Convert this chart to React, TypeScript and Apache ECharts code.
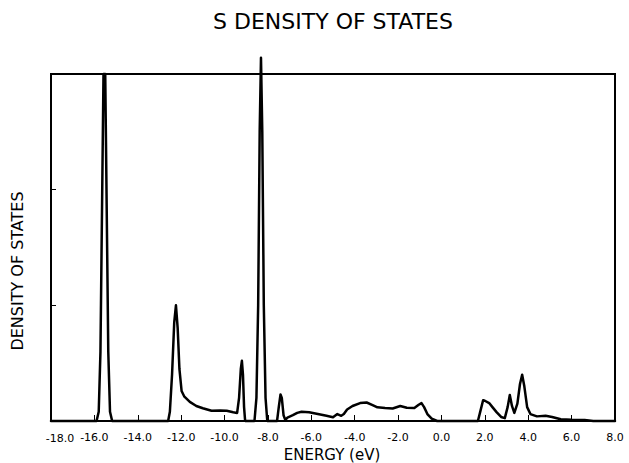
import React, { useEffect, useRef } from "react";
import * as echarts from "echarts";

const energies = [
  -18.0, -15.9, -15.8, -15.72, -15.65, -15.58, -15.5, -15.43, -15.36, -15.28, -15.18,
  -12.6, -12.52, -12.42, -12.32, -12.24, -12.16, -12.08, -11.98, -11.85, -11.6, -11.3, -11.0,
  -10.6, -10.2, -9.9, -9.6, -9.42, -9.33, -9.25, -9.2, -9.15, -9.1, -9.05,
  -8.62, -8.53, -8.45, -8.38, -8.32, -8.26, -8.19, -8.11, -8.03,
  -7.58, -7.5, -7.42, -7.36, -7.28, -7.2, -7.1, -6.85, -6.65, -6.45, -6.1, -5.7, -5.3, -5.0,
  -4.8, -4.62, -4.5, -4.35, -4.1, -3.75, -3.45, -3.2, -2.95, -2.6, -2.25, -1.9, -1.6, -1.25,
  -1.05, -0.92, -0.8, -0.65, -0.45, -0.2,
  1.68, 1.8, 1.92, 2.0, 2.2, 2.35, 2.55, 2.75, 2.92, 3.05, 3.15, 3.25, 3.36, 3.5, 3.62, 3.72,
  3.82, 3.95, 4.1, 4.4, 4.8, 5.1, 5.5, 6.0, 6.6, 7.0, 8.0,
];

const dos = [
  0, 0, 0.08, 0.6, 1.8, 3.0, 3.0, 1.8, 0.6, 0.08, 0,
  0, 0.08, 0.4, 0.85, 1.0, 0.8, 0.45, 0.26, 0.21, 0.165, 0.13, 0.11,
  0.088, 0.09, 0.088, 0.075, 0.07, 0.2, 0.45, 0.52, 0.4, 0.12, 0,
  0, 0.2, 1.0, 2.5, 3.14, 2.5, 1.0, 0.2, 0,
  0, 0.12, 0.23, 0.2, 0.05, 0.01, 0.03, 0.05, 0.07, 0.08, 0.075, 0.06, 0.045, 0.033,
  0.06, 0.045, 0.06, 0.1, 0.13, 0.155, 0.16, 0.14, 0.118, 0.112, 0.108, 0.13, 0.115, 0.112,
  0.14, 0.155, 0.12, 0.06, 0.02, 0,
  0, 0.09, 0.18, 0.175, 0.155, 0.12, 0.075, 0.035, 0.025, 0.12, 0.225, 0.13, 0.07, 0.15, 0.32, 0.4,
  0.3, 0.12, 0.06, 0.04, 0.045, 0.035, 0.015, 0.01, 0.008, 0, 0,
];

const xMin = -18;
const xMax = 8;
const xStep = 2;
const yTicks = [0, 1, 2, 3];

const titleText = "S DENSITY OF STATES";
const xName = "ENERGY (eV)";
const yName = "DENSITY OF STATES";

export default function App() {
  const ref = useRef<HTMLDivElement>(null);
  useEffect(() => {
    if (!ref.current) return;
    const chart = echarts.init(ref.current, null, { renderer: "svg" });
    const font = "DejaVu Sans";
    chart.setOption({
      animation: false,
      backgroundColor: "#fff",
      graphic: [
        {
          type: "text",
          x: 333,
          y: 21,
          style: {
            text: titleText,
            fontFamily: font,
            fontSize: 22,
            fill: "#000",
            align: "center",
            verticalAlign: "middle",
          },
        },
        {
          type: "text",
          x: 17.5,
          y: 271,
          rotation: Math.PI / 2,
          style: {
            text: yName,
            fontFamily: font,
            fontSize: 16,
            fill: "#000",
            align: "center",
            verticalAlign: "middle",
          },
        },
        {
          type: "text",
          x: 332,
          y: 455,
          style: {
            text: xName,
            fontFamily: font,
            fontSize: 15,
            fill: "#000",
            align: "center",
            verticalAlign: "middle",
          },
        },
        {
          type: "text",
          x: 60,
          y: 438,
          style: {
            text: xMin.toFixed(1),
            fontFamily: font,
            fontSize: 11,
            fill: "#000",
            align: "center",
            verticalAlign: "middle",
          },
        },
      ],
      grid: {
        left: 51,
        right: 14,
        top: 74,
        bottom: 42,
        show: true,
        borderColor: "#000",
        borderWidth: 2,
        backgroundColor: "transparent",
      },
      xAxis: {
        type: "value",
        min: xMin,
        max: xMax,
        interval: xStep,
        axisLine: { show: true, onZero: false, lineStyle: { color: "#000", width: 2 } },
        axisTick: { show: true, inside: true, length: 6, lineStyle: { color: "#000", width: 1 } },
        axisLabel: {
          fontFamily: font,
          fontSize: 11,
          color: "#000",
          margin: 11,
          showMinLabel: false,
          formatter: (v: number) => v.toFixed(1),
        },
        splitLine: { show: false },
      },
      yAxis: {
        type: "value",
        min: yTicks[0],
        max: yTicks[yTicks.length - 1],
        interval: 1,
        axisLine: { show: true, onZero: false, lineStyle: { color: "#000", width: 2 } },
        axisTick: { show: true, inside: true, length: 5, lineStyle: { color: "#000", width: 1 } },
        axisLabel: { show: false },
        splitLine: { show: false },
      },
      series: [
        {
          type: "line",
          data: energies.map((e, i) => [e, dos[i]]),
          symbol: "none",
          clip: false,
          smooth: false,
          lineStyle: { color: "#000", width: 2.5, join: "round", cap: "round" },
        },
      ],
    });
    return () => chart.dispose();
  }, []);
  return (
    <div
      ref={ref}
      style={{ position: "fixed", left: 0, top: 0, width: 629, height: 463, background: "#fff" }}
    />
  );
}
